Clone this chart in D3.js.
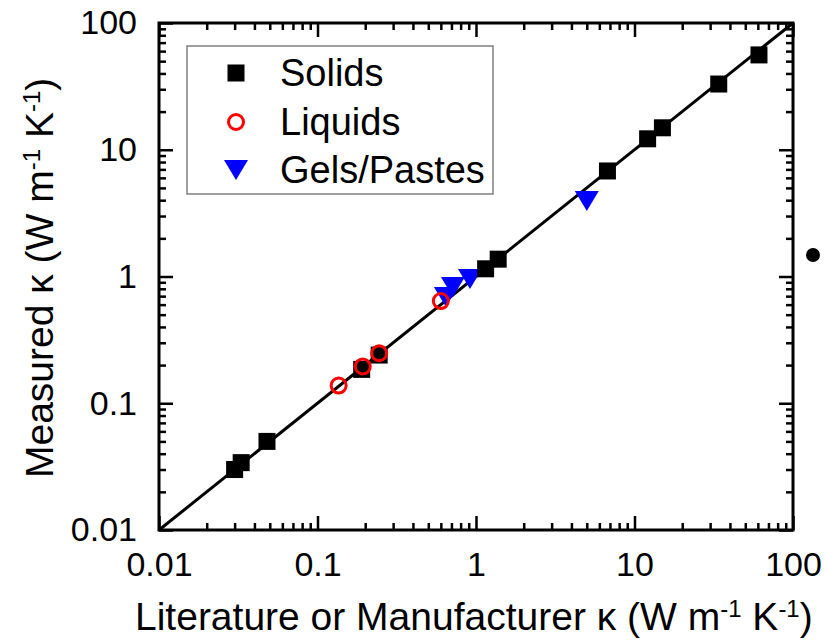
<!DOCTYPE html>
<html>
<head>
<meta charset="utf-8">
<style>
body { margin: 0; background: #fff; }
text { font-family: "Liberation Sans", Arial, sans-serif; fill: #000; }
.frame line, .frame path { stroke: #000; }
</style>
</head>
<body>
<div id="chart"></div>
<script src="https://cdn.jsdelivr.net/npm/d3@7/dist/d3.min.js"></script>
<script>

var width = 826, height = 640;
var mLeft = 159, mRight = 793, mTop = 23, mBottom = 530;

// literature value vs measured value
var solidsLit  = [0.030, 0.033, 0.048, 0.19, 0.245, 1.15, 1.38, 6.75, 12.1, 15.0, 34, 61];
var solidsMeas = [0.030, 0.034, 0.050, 0.185, 0.24, 1.15, 1.37, 6.8, 12.2, 14.9, 33, 56];

var liquidsLit  = [0.136, 0.193, 0.245, 0.60];
var liquidsMeas = [0.138, 0.195, 0.248, 0.64];

var gelsLit  = [0.646, 0.715, 0.916, 5.0];
var gelsMeas = [0.69, 0.826, 0.955, 3.95];

var decades = [0.01, 0.1, 1, 10, 100];
var tickLabels = ["0.01", "0.1", "1", "10", "100"];
var minorTicks = [];
[0.01, 0.1, 1, 10].forEach(function(d) {
  for (var k = 2; k <= 9; k++) minorTicks.push(d * k);
});

var legendNames = ["Solids", "Liquids", "Gels/Pastes"];

var x = d3.scaleLog().domain([0.01, 100]).range([mLeft, mRight]);
var y = d3.scaleLog().domain([0.01, 100]).range([mBottom, mTop]);

var svg = d3.select("#chart").append("svg")
    .attr("width", width)
    .attr("height", height);

// frame
svg.append("rect")
    .attr("x", mLeft).attr("y", mTop)
    .attr("width", mRight - mLeft).attr("height", mBottom - mTop)
    .attr("fill", "none").attr("stroke", "#000").attr("stroke-width", 3);

function fmt(d) { return tickLabels[decades.indexOf(d)]; }

function drawAxis(axisFn, scale, translate, withLabels) {
  var g = svg.append("g").attr("class", "frame").attr("transform", translate);
  g.call(axisFn(scale).tickValues(decades).tickSize(-14).tickPadding(withLabels ? 22 : 0)
      .tickFormat(withLabels ? fmt : ""));
  g.select(".domain").remove();
  g.selectAll(".tick line").attr("stroke-width", 2.5);
  var m = svg.append("g").attr("class", "frame").attr("transform", translate);
  m.call(axisFn(scale).tickValues(minorTicks).tickSize(-7).tickFormat(""));
  m.select(".domain").remove();
  m.selectAll(".tick line").attr("stroke-width", 2.5);
  g.selectAll("text").attr("font-size", 34).attr("font-family", "Liberation Sans, Arial, sans-serif");
  return g;
}

drawAxis(d3.axisBottom, x, "translate(0," + mBottom + ")", true);
drawAxis(d3.axisTop, x, "translate(0," + mTop + ")", false);
drawAxis(d3.axisLeft, y, "translate(" + mLeft + ",0)", true);
drawAxis(d3.axisRight, y, "translate(" + mRight + ",0)", false);

// y = x reference line
svg.append("line")
    .attr("x1", x(0.01)).attr("y1", y(0.01))
    .attr("x2", x(100)).attr("y2", y(100))
    .attr("stroke", "#000").attr("stroke-width", 3);

function triDown(cx, cy) {
  var w = 12, h = 10;
  return "M" + (cx - w) + "," + (cy - h) + "L" + (cx + w) + "," + (cy - h) + "L" + cx + "," + (cy + h) + "Z";
}

var gels = gelsLit.map(function(d, i) { return [d, gelsMeas[i]]; });
var solids = solidsLit.map(function(d, i) { return [d, solidsMeas[i]]; });
var liquids = liquidsLit.map(function(d, i) { return [d, liquidsMeas[i]]; });

svg.append("g").selectAll("path").data(gels).enter().append("path")
    .attr("d", function(d) { return triDown(x(d[0]), y(d[1])); })
    .attr("fill", "#0000ff");

svg.append("g").selectAll("rect").data(solids).enter().append("rect")
    .attr("x", function(d) { return x(d[0]) - 8.5; })
    .attr("y", function(d) { return y(d[1]) - 8.5; })
    .attr("width", 17).attr("height", 17)
    .attr("fill", "#000");

svg.append("g").selectAll("circle").data(liquids).enter().append("circle")
    .attr("cx", function(d) { return x(d[0]); })
    .attr("cy", function(d) { return y(d[1]); })
    .attr("r", 7.5)
    .attr("fill", "none").attr("stroke", "#ff0000").attr("stroke-width", 3);

// legend
var lg = svg.append("g");
lg.append("rect")
    .attr("x", 187).attr("y", 46).attr("width", 306).attr("height", 148)
    .attr("fill", "#fff").attr("stroke", "#808080").attr("stroke-width", 1.5);
var rows = [73, 122, 170];
lg.append("rect").attr("x", 236 - 8.5).attr("y", rows[0] - 8.5).attr("width", 17).attr("height", 17).attr("fill", "#000");
lg.append("circle").attr("cx", 236).attr("cy", rows[1]).attr("r", 7.5)
    .attr("fill", "none").attr("stroke", "#ff0000").attr("stroke-width", 3);
lg.append("path").attr("d", triDown(236, rows[2])).attr("fill", "#0000ff");
lg.selectAll("text").data(legendNames).enter().append("text")
    .attr("x", 280)
    .attr("y", function(d, i) { return rows[i] + 13; })
    .attr("font-size", 38)
    .text(function(d) { return d; });

// stray dot to the right of the frame
svg.append("circle").attr("cx", 813).attr("cy", 255).attr("r", 7).attr("fill", "#000");

// axis titles
function title(g, parts) {
  parts.forEach(function(p) {
    var t = g.append("tspan").text(p[0]);
    if (p[1] === "sup") t.attr("font-size", 24).attr("baseline-shift", "55%");
  });
}

var xt = svg.append("text").attr("x", 135).attr("y", 630).attr("font-size", 39);
title(xt, [["Literature or Manufacturer \u03ba (W m"], ["-1", "sup"], [" K"], ["-1", "sup"], [")"]]);

var yt = svg.append("text").attr("transform", "translate(53,478) rotate(-90)").attr("font-size", 39);
title(yt, [["Measured \u03ba (W m"], ["-1", "sup"], [" K"], ["-1", "sup"], [")"]]);

</script>
</body>
</html>
